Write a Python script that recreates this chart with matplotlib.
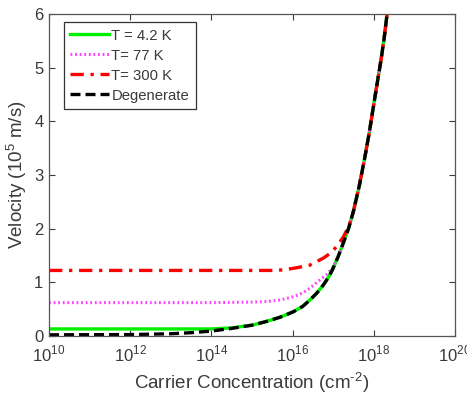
import matplotlib

matplotlib.use("Agg")
import matplotlib.pyplot as plt
from matplotlib.ticker import FixedLocator, NullLocator

plt.rcParams["font.family"] = ["Liberation Sans", "DejaVu Sans"]
plt.rcParams["mathtext.fontset"] = "custom"
plt.rcParams["mathtext.rm"] = "Liberation Sans"

# log10 of carrier concentration (cm^-2) and velocity (1e5 m/s)
deg_logn = [10, 12, 13, 13.5, 14, 14.5, 15, 15.36, 15.7, 16.02, 16.25, 16.43, 16.6,
            16.76, 16.9, 17.0, 17.12, 17.25, 17.38, 17.5, 17.64, 17.77, 17.88,
            17.98, 18.08, 18.18, 18.26, 18.33, 18.4]
deg_v = [0.02, 0.025, 0.04, 0.06, 0.09, 0.14, 0.20, 0.27, 0.35, 0.45, 0.55, 0.67, 0.80,
         0.95, 1.11, 1.26, 1.47, 1.73, 2.00, 2.32, 2.78, 3.28, 3.74,
         4.21, 4.68, 5.14, 5.56, 6.0, 6.4]

t4_logn = [10, 14, 14.5, 15, 15.36, 15.7, 16.02, 16.25, 16.43, 16.6, 16.76, 16.9,
           17.0, 17.12, 17.25, 17.38, 17.5, 17.64, 17.77, 17.88, 17.98, 18.08,
           18.18, 18.26, 18.33, 18.4]
t4_v = [0.13, 0.13, 0.15, 0.20, 0.27, 0.35, 0.45, 0.55, 0.67, 0.80, 0.95, 1.11,
        1.26, 1.47, 1.73, 2.00, 2.32, 2.78, 3.28, 3.74, 4.21, 4.68,
        5.14, 5.56, 6.0, 6.4]

t77_logn = [10, 14, 15, 15.36, 15.7, 16.02, 16.25, 16.43, 16.67, 16.85, 17.0,
            17.12, 17.25, 17.38, 17.5, 17.64, 17.77, 17.88, 17.98, 18.08, 18.18,
            18.26, 18.33, 18.4]
t77_v = [0.62, 0.62, 0.63, 0.64, 0.67, 0.73, 0.80, 0.89, 1.04, 1.15, 1.28,
         1.47, 1.73, 2.00, 2.32, 2.78, 3.28, 3.74, 4.21, 4.68, 5.14,
         5.56, 6.0, 6.4]

t300_logn = [10, 15.5, 15.77, 16.1, 16.43, 16.76, 16.95, 17.08, 17.25, 17.4, 17.5,
             17.64, 17.77, 17.88, 17.98, 18.08, 18.18, 18.26, 18.33, 18.4]
t300_v = [1.22, 1.22, 1.23, 1.27, 1.32, 1.45, 1.55, 1.66, 1.84, 2.07, 2.32,
          2.78, 3.28, 3.74, 4.21, 4.68, 5.14, 5.56, 6.0, 6.4]

xtick_exp = [10, 12, 14, 16, 18, 20]

text_col = "#3a3a3a"

fig = plt.figure(figsize=(4.67, 3.98), dpi=100)
ax = fig.add_axes([0.105, 0.156, 0.869, 0.809])

ax.plot([10 ** v for v in t4_logn], t4_v, color="#00ee00", lw=2.4, ls="-", label="T = 4.2 K")
ax.plot([10 ** v for v in t77_logn], t77_v, color="#ff44ff", lw=2.2, ls=(0, (0.6, 0.9)),
        label="T= 77 K")
ax.plot([10 ** v for v in t300_logn], t300_v, color="#ff0000", lw=2.4,
        ls=(0, (4, 2, 1, 2)), label="T= 300 K")
ax.plot([10 ** v for v in deg_logn], deg_v, color="black", lw=2.4, ls=(0, (3, 1.5)),
        label="Degenerate")

ax.set_xscale("log")
ax.set_xlim(1e10, 1e20)
ax.set_ylim(0, 6)
ax.xaxis.set_major_locator(FixedLocator([10.0 ** e for e in xtick_exp]))
ax.xaxis.set_minor_locator(NullLocator())
ax.set_xticklabels([f"$10^{{{e}}}$" for e in xtick_exp])
ax.set_yticks(range(0, 7))

ax.tick_params(direction="in", top=True, right=True, length=4, width=0.8,
               labelsize=12, colors=text_col)
ax.tick_params(axis="x", pad=6)
ax.tick_params(axis="y", pad=4)
for sp in ax.spines.values():
    sp.set_color("#555555")
    sp.set_linewidth(0.9)

ax.set_xlabel(r"Carrier Concentration (cm$^{\text{-2}}$)", fontsize=13.5, color=text_col,
              labelpad=4)
ax.set_ylabel("Velocity (10$^{5}$ m/s)", fontsize=13.5, color=text_col, labelpad=4)

leg = ax.legend(loc="upper left", bbox_to_anchor=(0.018, 0.998), fontsize=10.7,
                handlelength=2.6, handletextpad=0.15, labelspacing=0.4,
                borderpad=0.45, fancybox=False, framealpha=1, labelcolor=text_col)
leg.get_frame().set_edgecolor("#333333")
leg.get_frame().set_linewidth(0.9)

fig.savefig("out.png", dpi=100)
